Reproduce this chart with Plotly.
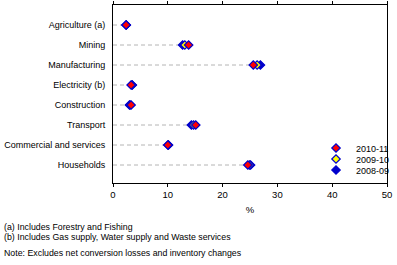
import plotly.graph_objects as go

# --- data --------------------------------------------------------------
SECTORS = [
    "Agriculture (a)", "Mining", "Manufacturing", "Electricity (b)",
    "Construction", "Transport", "Commercial and services", "Households",
]
Y2010_11 = [2.4, 13.8, 25.6, 3.3, 3.3, 15.1, 10.0, 24.6]
Y2009_10 = [2.4, 13.1, 26.3, 3.5, 3.1, 14.7, 10.1, 24.9]
Y2008_09 = [2.4, 12.7, 26.9, 3.5, 3.0, 14.3, 10.1, 25.1]
FOOTNOTES = [
    "(a) Includes Forestry and Fishing",
    "(b) Includes Gas supply, Water supply and Waste services",
    "Note: Excludes net conversion losses and inventory changes",
]

FONT = "Liberation Sans, Arial, sans-serif"
BLUE = "#0000cc"
RED = "#ff0000"
YELLOW = "#ffff00"

W, H = 397, 265
L, R, T, B = 113, 10, 5, 82
PLOT_W = W - L - R
PLOT_H = H - T - B


def px_x(p):
    return (p - L) / PLOT_W


def px_y(p):
    return (H - B - p) / PLOT_H


fig = go.Figure()

# dashed leader lines from the axis to the smallest value of each sector
lx, ly = [], []
for s, a, b, c in zip(SECTORS, Y2010_11, Y2009_10, Y2008_09):
    lx += [0, min(a, b, c), None]
    ly += [s, s, None]
fig.add_trace(go.Scatter(
    x=lx, y=ly, mode="lines", showlegend=False, hoverinfo="skip",
    line=dict(color="#b4b4b4", width=1, dash="4px,3px"),
))

# each series gets its own legend so the entries can sit tightly stacked
series = [
    ("2008-09", Y2008_09, BLUE, "legend3", 170),
    ("2009-10", Y2009_10, YELLOW, "legend2", 159),
    ("2010-11", Y2010_11, RED, "legend", 148),
]
legends = {}
for name, vals, col, leg, ypx in series:
    fig.add_trace(go.Scatter(
        x=vals, y=SECTORS, mode="markers", name=name, legend=leg,
        marker=dict(symbol="diamond", size=6.5, color=col,
                    line=dict(color=BLUE, width=1.2)),
    ))
    legends[leg] = dict(
        x=px_x(316), y=px_y(ypx), xanchor="left", yanchor="middle",
        bgcolor="rgba(0,0,0,0)", font=dict(size=9),
        itemwidth=30, borderwidth=0,
    )

fig.update_layout(
    width=W, height=H,
    margin=dict(l=L, r=R, t=T, b=B, autoexpand=False),
    paper_bgcolor="white", plot_bgcolor="white",
    font=dict(family=FONT, size=9, color="black"),
    showlegend=True,
    **legends,
)
fig.update_xaxes(
    range=[0, 50], dtick=10, showgrid=False, zeroline=False,
    showline=True, linecolor="black", linewidth=1, mirror="ticks",
    ticks="outside", ticklen=3, tickcolor="black",
    tickfont=dict(size=9.5),
    title=dict(text="%", standoff=6, font=dict(size=9.5)),
)
fig.update_yaxes(
    type="category", range=[7.9, -1], showgrid=False, zeroline=False,
    showline=True, linecolor="black", linewidth=1, mirror=True,
    ticks="", ticklabelstandoff=5,
)

for txt, py in zip(FOOTNOTES, [227, 237, 253]):
    fig.add_annotation(
        text=txt, xref="paper", yref="paper",
        x=px_x(2), y=px_y(py),
        xanchor="left", yanchor="middle", showarrow=False,
        font=dict(size=8.8),
    )

fig.write_html(
    "out.html",
    config={"displayModeBar": False},
    post_script="document.body.style.margin='0';",
)
